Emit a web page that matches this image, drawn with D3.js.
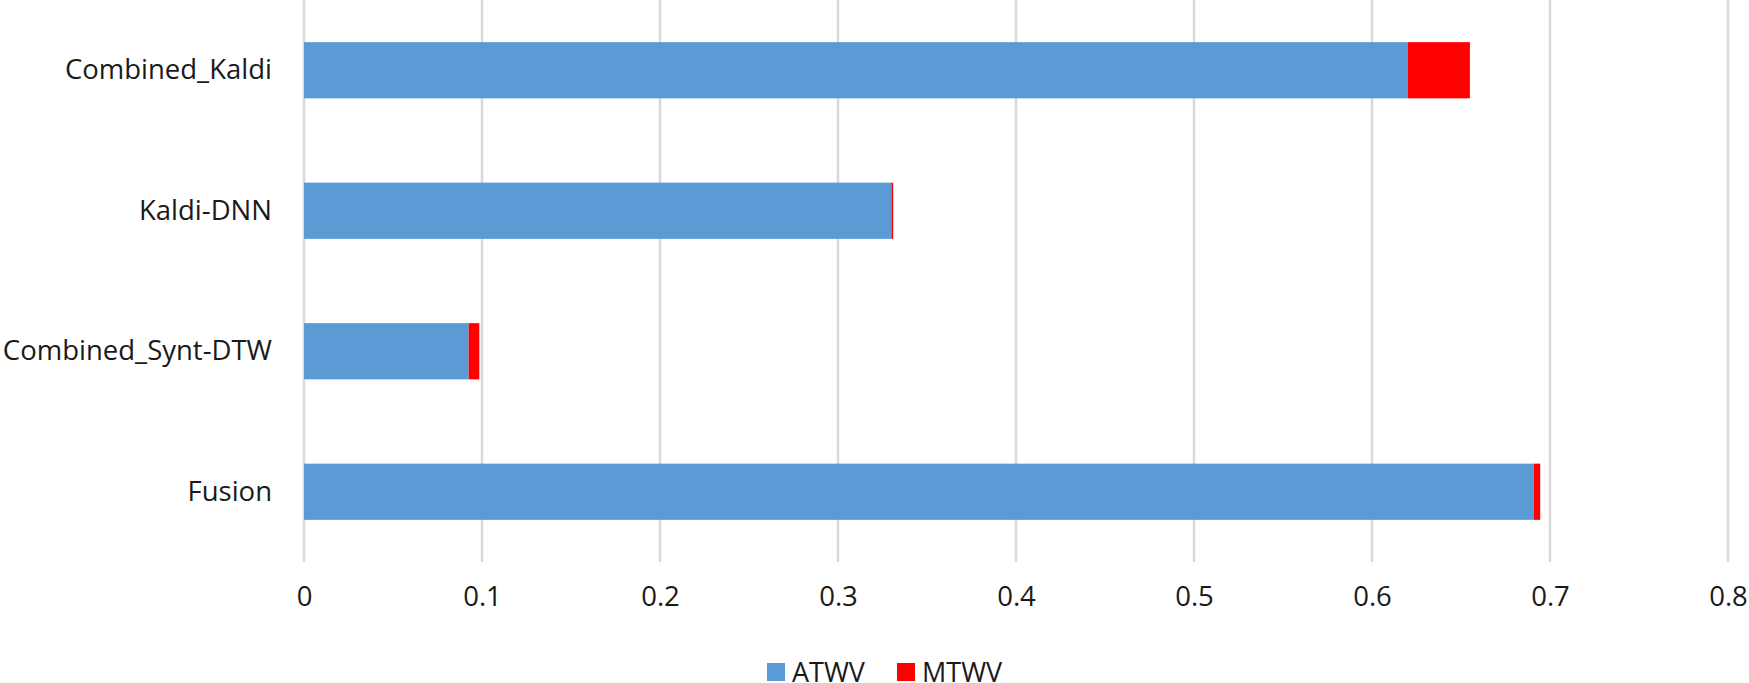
<!DOCTYPE html>
<html>
<head>
<meta charset="utf-8">
<script src="https://cdn.jsdelivr.net/npm/d3@7"></script>
<style>
    body { margin: 0; background: #fff; }
    text { font-family: "Open Sans", "Noto Sans", sans-serif; fill: #1a1a1a; }
</style>
</head>
<body>
<div id="chart"></div>
<script>
// categories top to bottom
var categories = ["Combined_Kaldi", "Kaldi-DNN", "Combined_Synt-DTW", "Fusion"];
// series values (MTWV is the part stacked on top of ATWV)
var atwv = [0.62, 0.33, 0.0925, 0.691];
var mtwv = [0.035, 0.001, 0.006, 0.0035];
var seriesNames = ["ATWV", "MTWV"];
var seriesColors = ["#5B9BD5", "#FF0000"];
var xTicks = [0, 0.1, 0.2, 0.3, 0.4, 0.5, 0.6, 0.7, 0.8];

var rows = categories.map(function (c, i) {
    return { name: c, ATWV: atwv[i], MTWV: mtwv[i] };
});

var margin = { top: 0, right: 21, bottom: 121, left: 304 },
    width = 1749 - margin.left - margin.right,
    height = 683 - margin.top - margin.bottom;

var svg = d3.select("#chart").append("svg")
    .attr("width", 1749)
    .attr("height", 683);

var g = svg.append("g")
    .attr("transform", "translate(" + margin.left + "," + margin.top + ")");

var x = d3.scaleLinear()
    .domain([0, 0.8])
    .range([0, width]);

var y = d3.scaleBand()
    .domain(categories)
    .range([0, height])
    .paddingInner(0.6)
    .paddingOuter(0.3);

// gridlines
g.selectAll(".grid")
    .data(xTicks)
    .enter().append("line")
    .attr("class", "grid")
    .attr("x1", function (d) { return x(d); })
    .attr("x2", function (d) { return x(d); })
    .attr("y1", 0)
    .attr("y2", height)
    .attr("stroke", "#D9D9D9")
    .attr("stroke-width", 2.5);

var stacked = d3.stack().keys(seriesNames)(rows);

g.selectAll(".series")
    .data(stacked)
    .enter().append("g")
    .attr("class", "series")
    .attr("fill", function (d, i) { return seriesColors[i]; })
    .selectAll("rect")
    .data(function (d) { return d; })
    .enter().append("rect")
    .attr("x", function (d) { return x(d[0]); })
    .attr("width", function (d) { return x(d[1]) - x(d[0]); })
    .attr("y", function (d) { return y(d.data.name); })
    .attr("height", y.bandwidth());

// x axis
var xAxis = g.append("g")
    .attr("transform", "translate(0," + height + ")")
    .call(d3.axisBottom(x).tickValues(xTicks).tickSize(0).tickPadding(24)
        .tickFormat(function (d) { return d === 0 ? "0" : d3.format(".1f")(d); }));
xAxis.select(".domain").remove();
xAxis.selectAll("text")
    .style("font-size", "27.5px")
    .attr("fill", "#1a1a1a");

// y axis
var yAxis = g.append("g")
    .call(d3.axisLeft(y).tickSize(0).tickPadding(32));
yAxis.select(".domain").remove();
yAxis.selectAll("text")
    .style("font-size", "27.5px")
    .attr("fill", "#1a1a1a");

// legend
var legend = svg.append("g")
    .attr("transform", "translate(767,663)");
var legendX = [0, 130];
seriesNames.forEach(function (s, i) {
    var item = legend.append("g").attr("transform", "translate(" + legendX[i] + ",0)");
    item.append("rect")
        .attr("width", 18)
        .attr("height", 18)
        .attr("fill", seriesColors[i]);
    item.append("text")
        .attr("x", 25)
        .attr("y", 9)
        .attr("dy", "0.36em")
        .style("font-size", "27px")
        .text(s);
});
</script>
</body>
</html>
